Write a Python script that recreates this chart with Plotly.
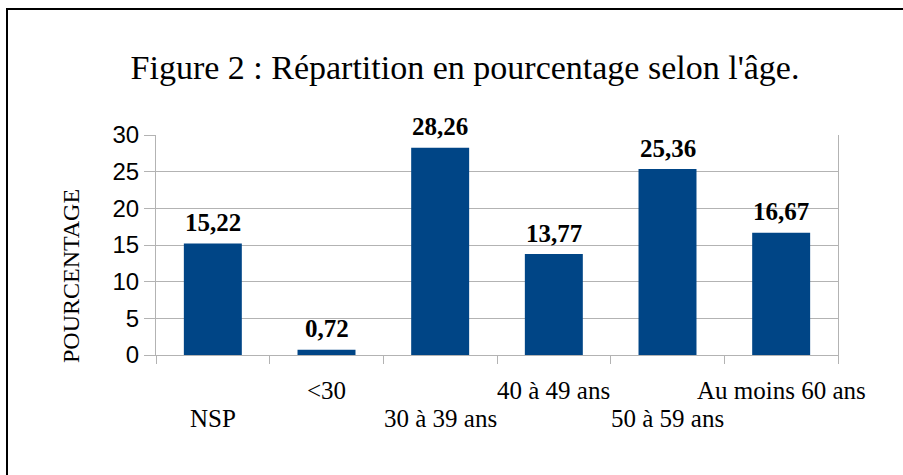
import plotly.graph_objects as go

categories = ["NSP", "<30", "30 à 39 ans", "40 à 49 ans", "50 à 59 ans", "Au moins 60 ans"]
values = [15.22, 0.72, 28.26, 13.77, 25.36, 16.67]
value_labels = ["15,22", "0,72", "28,26", "13,77", "25,36", "16,67"]
y_ticks = [0, 5, 10, 15, 20, 25, 30]

W, H = 903, 475
L, R, T, B = 156, 838, 135, 355
pw, ph = R - L, B - T

xs = list(range(len(categories)))

fig = go.Figure()
fig.add_trace(go.Bar(
    x=xs, y=values, width=0.51,
    marker=dict(color="#004586", line=dict(width=0)),
    cliponaxis=False,
    hoverinfo="skip",
))

annotations = []
for i, (v, lab) in enumerate(zip(values, value_labels)):
    annotations.append(dict(
        x=i, xref="x", y=v, yref="y", text=lab, showarrow=False,
        xanchor="center", yanchor="middle", yshift=21,
        font=dict(family="Liberation Serif", size=25, color="black", weight="bold"),
    ))
for i, c in enumerate(categories):
    ypix = 390 if i % 2 == 1 else 418
    annotations.append(dict(
        x=i, xref="x", y=(B - ypix) / ph, yref="paper",
        text=c, showarrow=False, xanchor="center", yanchor="middle",
        font=dict(family="Liberation Serif", size=25, color="black"),
    ))
annotations.append(dict(
    x=(71 - L) / pw, xref="paper", y=(B - 276) / ph, yref="paper",
    text="POURCENTAGE", showarrow=False, textangle=-90,
    xanchor="center", yanchor="middle",
    font=dict(family="Liberation Serif", size=24, color="black"),
))

fig.update_layout(
    width=W, height=H,
    margin=dict(l=L, r=W - R, t=T, b=H - B, pad=0),
    paper_bgcolor="white", plot_bgcolor="white",
    showlegend=False,
    hovermode=False,
    title=dict(
        text="Figure 2 : Répartition en pourcentage selon l'âge.",
        x=465 / W, xanchor="center", y=1 - 67 / H, yanchor="middle",
        font=dict(family="Liberation Serif", size=34, color="black"),
    ),
    xaxis=dict(
        range=[-0.5, len(categories) - 0.5],
        tickvals=[i - 0.5 for i in range(len(categories) + 1)],
        ticktext=[""] * (len(categories) + 1),
        ticks="outside", ticklen=8, tickcolor="#b3b3b3", tickwidth=1,
        showgrid=False, zeroline=False,
        showline=True, linecolor="#b3b3b3", linewidth=1, mirror=False,
    ),
    yaxis=dict(
        range=[0, 30], tickvals=y_ticks,
        ticks="outside", ticklen=11, tickcolor="#b3b3b3",
        showgrid=True, gridcolor="#b3b3b3", gridwidth=1,
        zeroline=False, showline=True, linecolor="#b3b3b3", linewidth=1,
        mirror=True,
        tickfont=dict(family="Liberation Sans", size=24, color="black"),
    ),
    annotations=annotations,
    shapes=[dict(
        type="rect", xref="paper", yref="paper",
        x0=(7 - L) / pw, x1=(920 - L) / pw,
        y0=(B - 490) / ph, y1=(B - 9) / ph,
        line=dict(color="black", width=2), layer="above",
    )],
)

fig.write_html("out.html", config={"displayModeBar": False},
               post_script="document.body.style.margin='0';")
